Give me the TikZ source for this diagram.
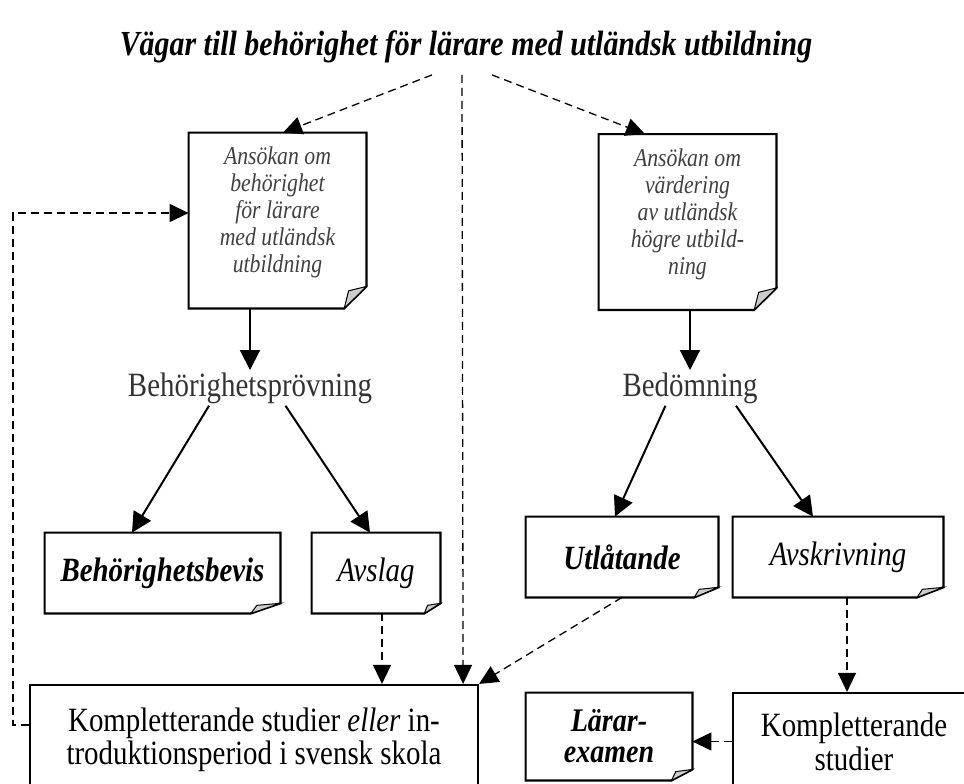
\documentclass[tikz,border=0pt]{standalone}
\usepackage{fontspec}
\setmainfont{Liberation Serif}[FakeStretch=0.85]
\usetikzlibrary{arrows.meta}
\usetikzlibrary{calc}

\definecolor{docgray}{gray}{0.25}
\definecolor{stagegray}{gray}{0.2}
\definecolor{foldgray}{gray}{0.8}

% box with a folded lower right corner
\newcommand{\foldbox}[1]{%
	\draw[line width=1.1pt] (#1.north west) -- (#1.north east)
		-- ($(#1.south east)!0.125!(#1.north east)$)
		-- ($(#1.south east)!0.125!(#1.south west)$)
		-- (#1.south west) -- cycle;
	\filldraw[fill=foldgray, line width=0.5pt] ($(#1.south east)!0.125!(#1.north east)$)
		-- ($(#1.south east)!0.1!(#1.north west)$)
		-- ($(#1.south east)!0.125!(#1.south west)$) -- cycle;
}

\begin{document}
\begin{tikzpicture}[x=0.5pt, y=-0.5pt,
	doc/.style={rectangle, minimum width=88.5pt, minimum height=87.5pt, align=center, inner sep=1pt, text=docgray, font=\fontsize{12.8}{13.5}\selectfont\itshape, text depth=10.8pt},
	result/.style={rectangle, minimum height=40pt, align=center, inner sep=1pt, font=\fontsize{17}{16}\selectfont\itshape},
	stage/.style={inner sep=1pt, text=stagegray, font=\fontsize{17}{16}\selectfont, anchor=base},
	study/.style={draw, line width=1.1pt, rectangle, align=center, inner sep=1pt},
	flow/.style={line width=1pt, -{Triangle[length=10pt,width=10pt]}},
	route/.style={line width=0.65pt, dash pattern=on 4pt off 2.5pt, -{Triangle[length=9.5pt,width=9pt]}}]
	\useasboundingbox (0,0) rectangle (964,783);

%% Title
	\draw (466,55) node[anchor=base, inner sep=1pt, font=\fontsize{17.6}{20}\selectfont\bfseries\itshape] (title){Vägar till behörighet för lärare med utländsk utbildning};

%% Applications
	\draw (277.5,220.5) node[doc] (docL){Ansökan om\\behörighet\\för lärare\\med utländsk\\utbildning};
	\draw (687.5,222) node[doc] (docR){Ansökan om\\värdering\\av utländsk\\högre utbild-\\ning};
	\foldbox{docL}
	\foldbox{docR}

%% Stages
	\draw (250,396) node[stage] (proev){Behörighetsprövning};
	\draw (690,396) node[stage] (bedoem){Bedömning};

%% Decisions
	\draw (162.5,573) node[result, minimum width=117.5pt, font=\fontsize{17}{16}\selectfont\bfseries\itshape] (bevis){Behörighetsbevis};
	\draw (376,573) node[result, minimum width=64pt] (avslag){Avslag};
	\draw (622,557) node[result, minimum width=96pt, font=\fontsize{17}{16}\selectfont\bfseries\itshape] (utl){Utlåtande};
	\draw (838,557) node[result, minimum width=105pt] (avskr){Avskrivning};
	\draw (609,736.5) node[result, minimum width=83pt, minimum height=43.5pt, font=\fontsize{16.5}{15.5}\selectfont\bfseries\itshape] (laerar){Lärar-\\examen};
	\foldbox{bevis}
	\foldbox{avslag}
	\foldbox{utl}
	\foldbox{avskr}
	\foldbox{laerar}

%% Studies
	\draw (254,740) node[study, minimum width=224pt, minimum height=55pt, font=\fontsize{17}{15}\selectfont] (komplL){Kompletterande studier \textit{eller} in-\\troduktionsperiod i svensk skola};
	\draw (854,741.5) node[study, minimum width=121pt, minimum height=48.5pt, font=\fontsize{17}{17}\selectfont] (komplR){Kompletterande\\studier};

	% Lines
	\draw[route] ([xshift=-17pt,yshift=-5pt]title.south) -- ([xshift=2.75pt]docL.north);
	\draw[route] ([xshift=13pt,yshift=-5pt]title.south) -- ([xshift=-21.25pt]docR.north);
	\draw[route] ([xshift=-2pt,yshift=-5pt]title.south) -- ([xshift=-8pt]komplL.north east);
	\draw[flow] (docL.south -| proev.north) -- (proev.north);
	\draw[flow] (docR.south -| bedoem.north) -- (bedoem.north);
	\draw[flow] ([xshift=-20.5pt]proev.south) -- ([xshift=-15.25pt]bevis.north);
	\draw[flow] ([xshift=17.75pt]proev.south) -- ([xshift=-3pt]avslag.north);
	\draw[flow] ([xshift=-12.25pt]bedoem.south) -- ([xshift=-3.5pt]utl.north);
	\draw[flow] ([xshift=23pt]bedoem.south) -- ([xshift=-12.5pt]avskr.north);
	\draw[route] ([xshift=3pt]avslag.south) -- ([xshift=3pt]avslag.south |- komplL.north);
	\draw[route] (utl.south) -- (komplL.north east);
	\draw[route] ([xshift=4.5pt]avskr.south) -- ([xshift=4.5pt]avskr.south |- komplR.north);
	\draw[route] (komplR.west) -- (komplR.west -| laerar.east);
	\coordinate (loopL) at (13,450);
	\draw[route] ([yshift=7.5pt]komplL.west) -| (loopL) |- ([yshift=3.75pt]docL.west);
\end{tikzpicture}
\end{document}
